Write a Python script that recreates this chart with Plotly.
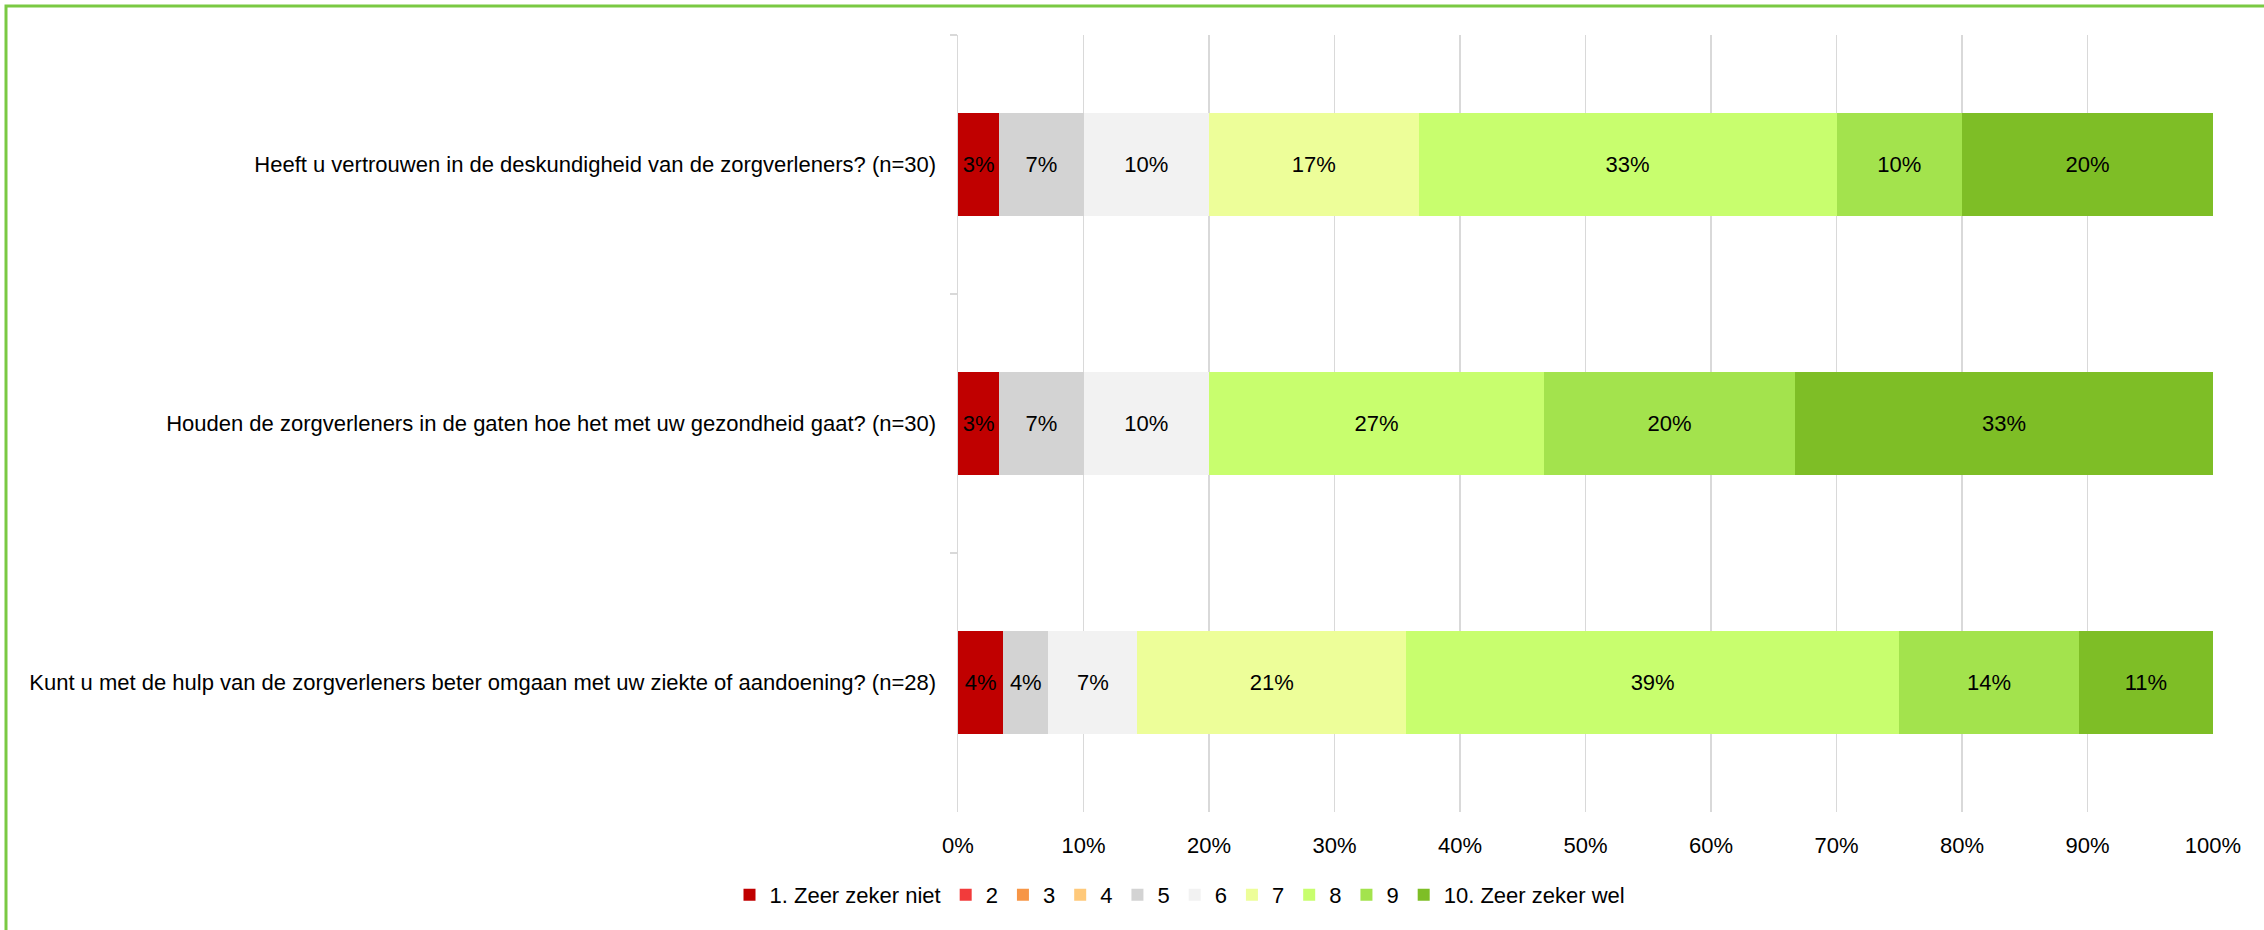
import plotly.graph_objects as go

categories = [
    "Heeft u vertrouwen in de deskundigheid van de zorgverleners? (n=30)",
    "Houden de zorgverleners in de gaten hoe het met uw gezondheid gaat? (n=30)",
    "Kunt u met de hulp van de zorgverleners beter omgaan met uw ziekte of aandoening? (n=28)",
]

series_names = ["1. Zeer zeker niet", "2", "3", "4", "5", "6", "7", "8", "9", "10. Zeer zeker wel"]

# percentages per answer option, one list per series (order = categories)
s1 = [3.3, 3.3, 3.6]
s2 = [0, 0, 0]
s3 = [0, 0, 0]
s4 = [0, 0, 0]
s5 = [6.7, 6.7, 3.6]
s6 = [10.0, 10.0, 7.1]
s7 = [16.7, 0, 21.4]
s8 = [33.3, 26.7, 39.3]
s9 = [10.0, 20.0, 14.3]
s10 = [20.0, 33.3, 10.7]

series_values = [s1, s2, s3, s4, s5, s6, s7, s8, s9, s10]

colors = ["#C00000", "#F23B3B", "#F79646", "#FFC97A", "#D3D3D3",
          "#F2F2F2", "#EDFE99", "#C8FE6E", "#A3E34D", "#7EBE26"]

x_tickvals = [0, 10, 20, 30, 40, 50, 60, 70, 80, 90, 100]
x_ticktext = ["0%", "10%", "20%", "30%", "40%", "50%", "60%", "70%", "80%", "90%", "100%"]

FONT = "Liberation Sans"
FS = 22

fig = go.Figure()
for name, vals, col in zip(series_names, series_values, colors):
    texts = [(f"{v:.0f}%" if v > 0 else "") for v in vals]
    fig.add_trace(go.Bar(
        y=categories, x=vals, name=name, orientation="h",
        marker=dict(color=col, line=dict(width=0)),
        text=texts, textposition="inside", insidetextanchor="middle",
        textangle=0, constraintext="none",
        textfont=dict(family=FONT, size=FS, color="#000000"),
        width=0.4, hoverinfo="skip",
    ))

W, H = 2264, 930
L, R, T, B = 958, 51, 35, 118
pw = W - L - R
ph = H - T - B

def px_to_paper_x(px):
    return (px - L) / pw

def px_to_paper_y(py):
    return (H - B - py) / ph

fig.update_layout(
    barmode="stack",
    width=W, height=H,
    margin=dict(l=L, r=R, t=T, b=B),
    paper_bgcolor="white", plot_bgcolor="white",
    font=dict(family=FONT, size=FS, color="#000000"),
    bargap=0.6,
    showlegend=True,
    legend=dict(
        orientation="h", xref="container", yref="container",
        x=1180 / W, xanchor="center", y=(H - 895) / H, yanchor="middle",
        font=dict(family=FONT, size=FS, color="#000000"),
        itemwidth=30, traceorder="normal", itemclick=False,
    ),
    xaxis=dict(
        range=[0, 100], tickvals=x_tickvals, ticktext=x_ticktext,
        showgrid=True, gridcolor="#D9D9D9", gridwidth=1.5,
        zeroline=False, showline=False, ticks="",
        ticklabelstandoff=18,
        tickfont=dict(family=FONT, size=FS, color="#000000"),
        fixedrange=True,
    ),
    yaxis=dict(
        autorange="reversed", type="category",
        showline=True, linecolor="#D9D9D9", linewidth=1.5,
        ticks="outside", tickson="boundaries", ticklen=7,
        tickcolor="#D9D9D9", tickwidth=1.5,
        showgrid=False, ticklabelstandoff=16,
        tickfont=dict(family=FONT, size=FS, color="#000000"),
        fixedrange=True,
    ),
    shapes=[dict(
        type="rect", xref="paper", yref="paper",
        x0=px_to_paper_x(6), x1=px_to_paper_x(W + 20),
        y0=px_to_paper_y(H + 20), y1=px_to_paper_y(6),
        line=dict(color="#7AC943", width=3), fillcolor="rgba(0,0,0,0)",
        layer="below",
    )],
)

fig.write_html(
    "out.html",
    config={"displayModeBar": False, "staticPlot": True},
    post_script="document.body.style.margin='0';document.body.style.overflow='hidden';",
)
